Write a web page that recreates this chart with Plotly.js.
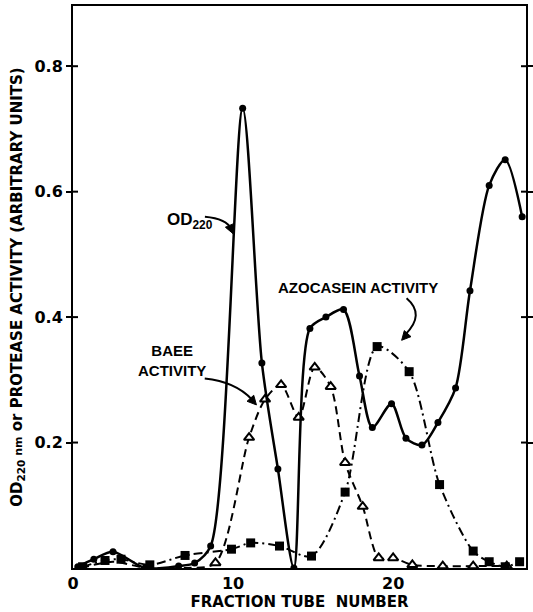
<!DOCTYPE html>
<html>
<head>
<meta charset="utf-8">
<script src="https://cdn.plot.ly/plotly-3.0.1.min.js"></script>
<style>html,body{margin:0;padding:0;background:#fff;}#chart{width:533px;height:612px;}</style>
</head>
<body>
<div id="chart"></div>
<script>
// OD220 (filled circles, solid line)
const odX = [0.3, 1.3, 2.5, 4.5, 6.6, 7.6, 8.6, 10.6, 11.8, 12.8, 13.8, 14.8, 15.8, 16.9, 17.9, 18.7, 19.9, 20.8, 21.8, 22.8, 23.9, 24.8, 26.0, 27.0, 28.06];
const odY = [0.002, 0.014, 0.026, 0.0, 0.003, 0.008, 0.035, 0.733, 0.327, 0.158, 0.0, 0.382, 0.400, 0.412, 0.306, 0.224, 0.262, 0.207, 0.196, 0.232, 0.287, 0.442, 0.610, 0.651, 0.560];
// BAEE activity (open triangles, dashed line)
const baeeX = [0.5, 2.5, 4.6, 7.0, 8.9, 11.0, 12.0, 13.0, 14.1, 15.1, 16.1, 17.0, 18.1, 19.1, 20.0, 21.2, 23.1, 25.0, 27.1];
const baeeY = [0.0, 0.010, 0.0, 0.0, 0.008, 0.208, 0.269, 0.292, 0.240, 0.320, 0.289, 0.168, 0.098, 0.016, 0.016, 0.005, 0.003, 0.003, 0.003];
// Azocasein activity (filled squares, dash-dot line)
const azoX = [0.6, 2.0, 3.0, 4.8, 7.0, 9.9, 11.1, 12.9, 14.9, 17.0, 19.0, 21.0, 22.9, 25.0, 26.0, 27.0, 27.9];
const azoY = [0.002, 0.012, 0.014, 0.005, 0.020, 0.030, 0.040, 0.035, 0.019, 0.121, 0.353, 0.313, 0.133, 0.027, 0.010, 0.002, 0.010];
// axis ticks
const xTicks = [0, 10, 20];
const xTickText = ['0', '10', '20'];
const yTicks = [0.2, 0.4, 0.6, 0.8];
const yTickText = ['0.2', '0.4', '0.6', '0.8'];

const FONT = 'DejaVu Sans, Liberation Sans, Arial, sans-serif';
const FONT2 = 'Liberation Sans, Arial, sans-serif';

const W = 533, H = 612, ML = 73, MR = 7, MT = 6, MB = 44;
const XR = [0, 28.3], YR = [0, 0.896];
const pxX = (W - ML - MR) / (XR[1] - XR[0]);
const pxY = (H - MT - MB) / (YR[1] - YR[0]);

// filled arrowhead whose tip is at (x, y) in data units, pointing along pixel direction (dx, dy) (screen y down)
function arrowHead(x, y, dx, dy) {
  const len = Math.hypot(dx, dy), ux = dx / len, uy = dy / len;
  const L = 9, Wd = 4.5;
  const bx = -ux * L, by = -uy * L;
  const p1 = [bx - uy * Wd, by + ux * Wd], p2 = [bx + uy * Wd, by - ux * Wd];
  const toD = p => [(x + p[0] / pxX).toFixed(4), (y - p[1] / pxY).toFixed(5)];
  const a = toD(p1), b = toD(p2);
  return {type: 'path', xref: 'x', yref: 'y', path: `M ${x},${y} L ${a[0]},${a[1]} L ${b[0]},${b[1]} Z`,
          fillcolor: '#000', line: {color: '#000', width: 1}};
}

// inner tick marks (the printed ticks cross the frame)
const TICK_IN = 5;
const innerTicks = [];
yTicks.forEach(v => {
  innerTicks.push({type: 'line', xref: 'paper', yref: 'y', x0: 0, x1: TICK_IN / (W - ML - MR), y0: v, y1: v, line: {color: '#000', width: 2}});
  innerTicks.push({type: 'line', xref: 'paper', yref: 'y', x0: 1, x1: 1 - TICK_IN / (W - ML - MR), y0: v, y1: v, line: {color: '#000', width: 2}});
});

// BAEE markers are only drawn where the printed figure shows triangles (from tube ~9 on)
const baeeMX = baeeX.filter(x => x >= 8);
const baeeMY = baeeY.filter((_, i) => baeeX[i] >= 8);

const traces = [
  {
    x: baeeX, y: baeeY, type: 'scatter', mode: 'lines', name: 'BAEE',
    line: {color: '#000', width: 2, dash: '8px,5px', shape: 'spline', smoothing: 0.8}
  },
  {
    x: baeeMX, y: baeeMY, type: 'scatter', mode: 'markers', name: 'BAEE points',
    marker: {symbol: 'triangle-up', size: 9, color: '#ffffff', line: {color: '#000000', width: 2}}
  },
  {
    x: azoX, y: azoY, type: 'scatter', mode: 'lines+markers', name: 'Azocasein',
    line: {color: '#000', width: 2, dash: '9px,4px,2px,4px', shape: 'spline', smoothing: 0.8},
    marker: {symbol: 'square', size: 9, color: '#000'}
  },
  {
    x: odX, y: odY, type: 'scatter', mode: 'lines+markers', name: 'OD220',
    line: {color: '#000', width: 2.5, shape: 'spline', smoothing: 0.8},
    marker: {symbol: 'circle', size: 7, color: '#000'}
  }
];

const layout = {
  width: W, height: H,
  margin: {l: ML, r: MR, t: MT, b: MB},
  paper_bgcolor: '#fff', plot_bgcolor: '#fff',
  showlegend: false,
  font: {family: FONT, color: '#000', weight: 'bold'},
  xaxis: {
    range: XR, tickvals: xTicks, ticktext: xTickText,
    ticks: '', showgrid: false, zeroline: false,
    showline: true, linecolor: '#000', linewidth: 2, mirror: true,
    tickfont: {family: FONT, size: 16, weight: 'bold'},
    title: {text: 'FRACTION TUBE  NUMBER', font: {family: FONT, size: 15, weight: 'bold'}, standoff: 3}
  },
  yaxis: {
    range: YR, tickvals: yTicks, ticktext: yTickText,
    ticks: 'outside', ticklen: 5, tickwidth: 2, tickcolor: '#000',
    showgrid: false, zeroline: false,
    showline: true, linecolor: '#000', linewidth: 2, mirror: 'ticks',
    tickfont: {family: FONT, size: 16, weight: 'bold'},
    title: {text: "OD<sub>220</sub><span style='font-size:11px'> nm</span> or PROTEASE ACTIVITY (ARBITRARY UNITS)", font: {family: FONT, size: 15, weight: 'bold'}, standoff: 8}
  },
  shapes: innerTicks.concat([
    {type: 'path', xref: 'x', yref: 'y', path: 'M 8.24,0.560 Q 9.6,0.557 9.9,0.540', line: {color: '#000', width: 2}},
    {type: 'path', xref: 'x', yref: 'y', path: 'M 8.23,0.302 Q 10.15,0.297 11.2,0.268', line: {color: '#000', width: 2}},
    {type: 'path', xref: 'x', yref: 'y', path: 'M 20.84,0.430 Q 22.03,0.404 20.75,0.372', line: {color: '#000', width: 2}},
    arrowHead(10.0, 0.533, 6, 14),
    arrowHead(11.46, 0.260, 10, 11),
    arrowHead(20.53, 0.363, -9, 10)
  ]),
  annotations: [
    {x: 7.3, y: 0.553, xref: 'x', yref: 'y', showarrow: false, text: 'OD<sub>220</sub>', font: {family: FONT2, size: 17, weight: 'bold'}},
    {x: 6.2, y: 0.331, xref: 'x', yref: 'y', showarrow: false, text: 'BAEE<br>ACTIVITY', font: {family: FONT2, size: 15, weight: 'bold'}},
    {x: 17.8, y: 0.448, xref: 'x', yref: 'y', showarrow: false, text: 'AZOCASEIN ACTIVITY', font: {family: FONT2, size: 15, weight: 'bold'}}
  ]
};

Plotly.newPlot('chart', traces, layout, {displayModeBar: false, staticPlot: true});
</script>
</body>
</html>
